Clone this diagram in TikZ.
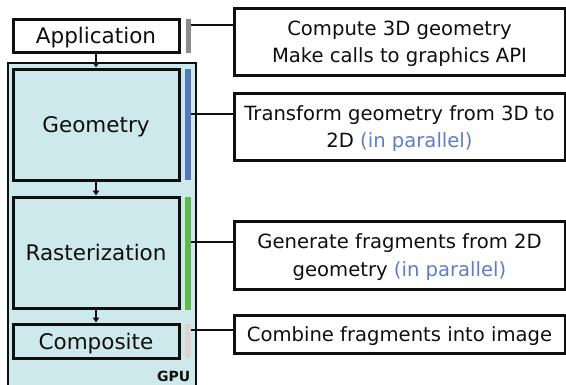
\documentclass[tikz,border=0pt]{standalone}
\usepackage{fontspec}
\setmainfont{DejaVu Sans}
\usetikzlibrary{arrows.meta,calc}
\definecolor{gpufill}{RGB}{205,233,235}
\definecolor{barblue}{RGB}{88,120,190}
\definecolor{bargreen}{RGB}{94,186,76}
\definecolor{bargray}{RGB}{140,140,140}
\definecolor{barpink}{RGB}{222,212,208}
\definecolor{partext}{RGB}{95,125,200}
\definecolor{ink}{RGB}{15,15,15}
\begin{document}
\begin{tikzpicture}[x=1pt,y=-1pt,
  stage/.style={draw=ink,line width=3pt,fill=gpufill,minimum width=166pt,inner sep=0pt,text depth=0pt,font=\fontsize{21.5}{24}\selectfont,text=ink},
  desc/.style={draw=ink,line width=3pt,fill=white,minimum width=331pt,inner sep=0pt,text depth=0pt,align=center,font=\fontsize{19.6}{27.2}\selectfont,text=ink},
  bar/.style={minimum width=6pt,inner sep=0pt,draw=none},
  link/.style={draw=ink,line width=2.8pt},
  flow/.style={draw=ink,line width=2.2pt,-{Triangle[length=5pt,width=6.5pt]}},
  par/.style={text=partext}]
\clip (0,0) rectangle (566,384);
\fill[white] (0,0) rectangle (566,384);
% GPU container
\node[draw=ink,line width=2.4pt,fill=gpufill,minimum width=188pt,minimum height=330pt,inner sep=0pt] (gpu) at (102,228) {};
\node[font=\bfseries\fontsize{14}{16}\selectfont,text=ink,anchor=base east,inner sep=0pt] (gpulbl) at (190.5,381.5) {GPU};
% stages
\node[stage,fill=white,minimum height=33pt] (app) at (96,35.5) {Application};
\node[stage,minimum height=111pt] (geo) at (96,124.5) {Geometry};
\node[stage,minimum height=111pt] (ras) at (96,252.5) {Rasterization};
\node[stage,minimum height=34pt] (com) at (96,341) {Composite};
% bars
\node[bar,fill=bargray,minimum width=5pt,minimum height=34pt] (b1) at (188,36) {};
\node[bar,fill=barblue,minimum height=111pt] (b2) at (188,124.5) {};
\node[bar,fill=bargreen,minimum height=113pt] (b3) at (188,253.5) {};
\node[bar,fill=barpink,minimum height=34pt] (b4) at (188,341) {};
% descriptions
\node[desc,minimum height=67pt] (d1) at (399.5,41.5) {Compute 3D geometry\\Make calls to graphics API};
\node[desc,minimum height=67pt] (d2) at (399.5,126.5) {Transform geometry from 3D to\\2D {\color{partext}(in parallel)}};
\node[desc,minimum height=68pt] (d3) at (399.5,255) {Generate fragments from 2D\\geometry {\color{partext}(in parallel)}};
\node[desc,minimum height=38pt] (d4) at (399.5,334) {Combine fragments into image};
% connectors
\coordinate (c1) at (d1.west |- 0,25);
\coordinate (c2) at (d2.west |- 0,114);
\coordinate (c3) at (d3.west |- 0,242);
\coordinate (c4) at (d4.west |- 0,330);
\draw[link] (b1.east |- c1) -- (c1);
\draw[link] (b2.east |- c2) -- (c2);
\draw[link] (b3.east |- c3) -- (c3);
\draw[link] (b4.east |- c4) -- (c4);
% flow arrows
\draw[flow] (app.south) -- (geo.north);
\draw[flow] (geo.south) -- (ras.north);
\draw[flow] (ras.south) -- (com.north);
\end{tikzpicture}
\end{document}
